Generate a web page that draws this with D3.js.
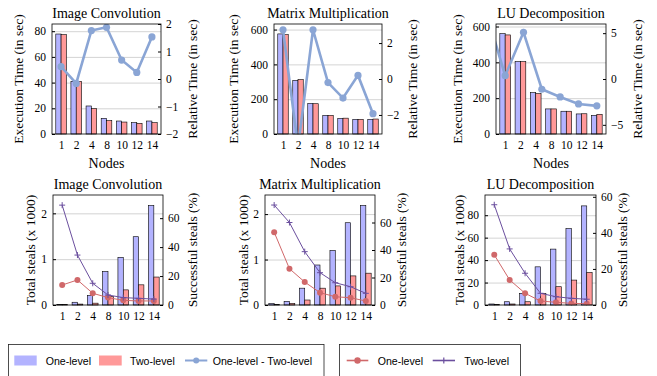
<!DOCTYPE html>
<html>
<head>
<meta charset="utf-8">
<script src="https://cdn.jsdelivr.net/npm/d3@7"></script>
<style>
  body { margin: 0; background: #fff; }
  svg { display: block; }
  text { font-family: "Liberation Serif", "DejaVu Serif", serif; fill: #000; }
  .legend text { font-family: "Liberation Sans", Arial, sans-serif; }
</style>
</head>
<body>
<svg id="chart" width="657" height="376"></svg>
<script>
// ---- data ----
const nodes = ["1", "2", "4", "8", "10", "12", "14"];

// execution time (sec)
const convTimeOne = [77.8, 41, 21.8, 12.2, 10.1, 8.8, 10.1];
const convTimeTwo = [77.3, 41, 19.7, 10.4, 9.3, 8.3, 8.8];
const convRel = [0.45, -0.16, 1.76, 1.88, 0.69, 0.24, 1.53];

const mmTimeOne = [575, 308, 176, 107, 90, 84, 84];
const mmTimeTwo = [571, 312, 174, 107, 91, 84, 86];
const mmRel = [2.74, -3.8, 2.74, -0.2, -1.06, 0.2, -1.93];

const luTimeOne = [560, 404, 231, 140, 127, 112, 104];
const luTimeTwo = [553, 404, 225, 140, 127, 113, 110];
const luRel = [7.1, 0.36, 5.1, -1.12, -1.96, -2.72, -2.93];

// total steals (x 1000)
const convStealsOne = [0.015, 0.06, 0.21, 0.73, 1.04, 1.49, 2.17];
const convStealsTwo = [0.01, 0.02, 0.04, 0.19, 0.33, 0.44, 0.61];
const mmStealsOne = [0.03, 0.08, 0.37, 0.88, 1.2, 1.81, 2.19];
const mmStealsTwo = [0.01, 0.035, 0.11, 0.37, 0.42, 0.64, 0.7];
const luStealsOne = [0.9, 2.9, 10.4, 34, 49.8, 68.1, 88.3];
const luStealsTwo = [0.3, 0.9, 2.9, 10.4, 16.3, 22.2, 29];

// successful steals (%)
const convSuccOne = [13.8, 17.3, 8.1, 5.1, 3.2, 2.8, 2.8];
const convSuccTwo = [69, 34.5, 15, 6.9, 5.1, 4.6, 4.1];
const mmSuccOne = [53, 26.4, 16.7, 9, 6, 5.3, 2.9];
const mmSuccTwo = [72.7, 60, 38.8, 23.5, 16.2, 13.3, 8.5];
const luSuccOne = [27.8, 13.9, 6.5, 2.2, 1.5, 0.9, 0.7];
const luSuccTwo = [55.6, 31.1, 17.6, 6.5, 4.6, 3.7, 3.2];

// tick labels
const convTimeTicks = [0, 20, 40, 60, 80];
const convRelTicks = [-2, -1, 0, 1, 2];
const bigTimeTicks = [0, 200, 400, 600];
const mmRelTicks = [-2, 0, 2];
const luRelTicks = [-5, 0, 5];
const stealTicks = [0, 1, 2];
const luStealTicks = [0, 20, 40, 60, 80];
const succTicks = [0, 20, 40, 60];

// ---- style ----
const blueFill = "#b3b3ff";
const redFill = "#ff9999";
const relColor = "#8aa5d5";
const redLine = "#d0686a";
const purpleLine = "#6b4f9e";
const gridColor = "#c8c8c8";
const intFmt = d3.format("d");

const svg = d3.select("#chart");

const panels = [
  { title: "Image Convolution", left: 52, top: 24, width: 109, height: 110,
    one: convTimeOne, two: convTimeTwo, rel: convRel, relSpan: [0, 6],
    leftDomain: [0, 85.6], rightDomain: [-2, 2], leftTicks: convTimeTicks, rightTicks: convRelTicks,
    leftLabel: "Execution Time (in sec)", rightLabel: "Relative Time (in sec)", lOff: 34, rOff: 31, nodesLabel: true },
  { title: "Matrix Multiplication", left: 274, top: 24, width: 108, height: 110,
    one: mmTimeOne, two: mmTimeTwo, rel: mmRel, relSpan: [0, 6],
    leftDomain: [0, 632], rightDomain: [-3.06, 3.06], leftTicks: bigTimeTicks, rightTicks: mmRelTicks,
    leftLabel: "Execution Time (in sec)", rightLabel: "Relative Time (in sec)", lOff: 41, rOff: 30, nodesLabel: true },
  { title: "LU Decomposition", left: 496, top: 24, width: 110, height: 110,
    one: luTimeOne, two: luTimeTwo, rel: luRel, relSpan: [1, 6],
    leftDomain: [0, 614], rightDomain: [-6, 6], leftTicks: bigTimeTicks, rightTicks: luRelTicks,
    leftLabel: "Execution Time (in sec)", rightLabel: "Relative Time (in sec)", lOff: 39, rOff: 31, nodesLabel: true },
  { title: "Image Convolution", left: 53, top: 195, width: 110, height: 110,
    one: convStealsOne, two: convStealsTwo, succOne: convSuccOne, succTwo: convSuccTwo,
    leftDomain: [0, 2.4], rightDomain: [0, 76], leftTicks: stealTicks, rightTicks: succTicks,
    leftLabel: "Total steals (x 1000)", rightLabel: "Successful steals (%)", lOff: 22.5, rOff: 29 },
  { title: "Matrix Multiplication", left: 265, top: 195, width: 110, height: 110,
    one: mmStealsOne, two: mmStealsTwo, succOne: mmSuccOne, succTwo: mmSuccTwo,
    leftDomain: [0, 2.42], rightDomain: [0, 80], leftTicks: stealTicks, rightTicks: succTicks,
    leftLabel: "Total steals (x 1000)", rightLabel: "Successful steals (%)", lOff: 21.5, rOff: 26 },
  { title: "LU Decomposition", left: 485, top: 195, width: 111, height: 110,
    one: luStealsOne, two: luStealsTwo, succOne: luSuccOne, succTwo: luSuccTwo,
    leftDomain: [0, 98], rightDomain: [0, 61], leftTicks: luStealTicks, rightTicks: succTicks,
    leftLabel: "Total steals (x 1000)", rightLabel: "Successful steals (%)", lOff: 25.5, rOff: 26 }
];

function styleAxis(a) {
  a.attr("font-family", null).attr("font-size", 11.5);
  a.select(".domain").remove();
}

panels.forEach((p, k) => {
  const w = p.width, h = p.height;
  const g = svg.append("g").attr("transform", `translate(${p.left},${p.top})`);
  const x = d3.scalePoint(nodes, [0, w]).padding(0.6);
  const yL = d3.scaleLinear(p.leftDomain, [h, 0]);
  const yR = d3.scaleLinear(p.rightDomain, [h, 0]);
  const bw = x.step() * 0.35;

  // grid lines on the left ticks
  g.append("g")
    .call(d3.axisLeft(yL).tickValues(p.leftTicks.filter((v) => v > 0)).tickSize(-w).tickFormat(""))
    .call((a) => a.select(".domain").remove())
    .selectAll("line").attr("stroke", gridColor).attr("stroke-width", 0.8);

  // bars
  const bars = g.append("g").attr("stroke", "#000").attr("stroke-width", 0.6);
  bars.selectAll(".one").data(p.one).join("rect").attr("class", "one")
    .attr("x", (d, i) => x(nodes[i]) - bw).attr("y", (d) => yL(d))
    .attr("width", bw).attr("height", (d) => h - yL(d)).attr("fill", blueFill);
  bars.selectAll(".two").data(p.two).join("rect").attr("class", "two")
    .attr("x", (d, i) => x(nodes[i])).attr("y", (d) => yL(d))
    .attr("width", bw).attr("height", (d) => h - yL(d)).attr("fill", redFill);

  // lines, clipped to the plot area
  const clipId = "clip" + k;
  g.append("clipPath").attr("id", clipId).append("rect").attr("width", w).attr("height", h);
  const lines = g.append("g").attr("clip-path", `url(#${clipId})`);

  if (p.rel) {
    const rx = d3.scaleLinear(p.relSpan, [x(nodes[0]), x(nodes[nodes.length - 1])]);
    const line = d3.line().x((d, i) => rx(i)).y((d) => yR(d));
    lines.append("path").datum(p.rel).attr("d", line)
      .attr("fill", "none").attr("stroke", relColor).attr("stroke-width", 2.6);
    lines.selectAll(".rel").data(p.rel).join("circle").attr("class", "rel")
      .attr("cx", (d, i) => rx(i)).attr("cy", (d) => yR(d)).attr("r", 3.6).attr("fill", relColor);
  } else {
    const line = d3.line().x((d, i) => x(nodes[i])).y((d) => yR(d));
    lines.append("path").datum(p.succOne).attr("d", line)
      .attr("fill", "none").attr("stroke", redLine).attr("stroke-width", 1);
    lines.selectAll(".s1").data(p.succOne).join("circle").attr("class", "s1")
      .attr("cx", (d, i) => x(nodes[i])).attr("cy", (d) => yR(d)).attr("r", 3).attr("fill", redLine);
    lines.append("path").datum(p.succTwo).attr("d", line)
      .attr("fill", "none").attr("stroke", purpleLine).attr("stroke-width", 1);
    lines.selectAll(".s2").data(p.succTwo).join("path").attr("class", "s2")
      .attr("transform", (d, i) => `translate(${x(nodes[i])},${yR(d)})`)
      .attr("d", "M-3,0H3M0,-3V3").attr("stroke", purpleLine).attr("stroke-width", 1);
  }

  // frame
  g.append("rect").attr("width", w).attr("height", h)
    .attr("fill", "none").attr("stroke", "#000").attr("stroke-width", 0.8);

  // axes
  g.append("g")
    .call(d3.axisLeft(yL).tickValues(p.leftTicks).tickFormat(intFmt).tickSize(-3).tickPadding(6))
    .call(styleAxis);
  g.append("g").attr("transform", `translate(${w},0)`)
    .call(d3.axisRight(yR).tickValues(p.rightTicks).tickFormat(intFmt).tickSize(-3).tickPadding(5))
    .call(styleAxis);
  g.append("g").attr("transform", `translate(0,${h})`)
    .call(d3.axisBottom(x).tickSize(0).tickPadding(7))
    .call(styleAxis);

  // labels
  g.append("text").attr("x", w / 2).attr("y", -11).attr("text-anchor", "middle")
    .attr("dominant-baseline", "central").attr("font-size", 14).text(p.title);
  g.append("text").attr("transform", `translate(${-p.lOff},${h / 2}) rotate(-90)`)
    .attr("text-anchor", "middle").attr("dominant-baseline", "central")
    .attr("font-size", 13.5).text(p.leftLabel);
  g.append("text").attr("transform", `translate(${w + p.rOff},${h / 2}) rotate(-90)`)
    .attr("text-anchor", "middle").attr("dominant-baseline", "central")
    .attr("font-size", 13.5).text(p.rightLabel);
  if (p.nodesLabel) {
    g.append("text").attr("x", w / 2).attr("y", h + 29).attr("text-anchor", "middle")
      .attr("dominant-baseline", "central").attr("font-size", 14).text("Nodes");
  }
});

// ---- legends ----
const legend = svg.append("g").attr("class", "legend").attr("font-size", 10.6);

legend.append("rect").attr("x", 8.5).attr("y", 344.5).attr("width", 315.5).attr("height", 40)
  .attr("fill", "#fff").attr("stroke", "#222").attr("stroke-width", 0.8);
legend.append("rect").attr("x", 339.5).attr("y", 344.5).attr("width", 181).attr("height", 40)
  .attr("fill", "#fff").attr("stroke", "#222").attr("stroke-width", 0.8);

const ly = 360.5;
legend.append("rect").attr("x", 14.3).attr("y", ly - 5).attr("width", 22.4).attr("height", 10).attr("fill", blueFill);
legend.append("text").attr("x", 45.7).attr("y", ly).attr("dominant-baseline", "central").text("One-level");
legend.append("rect").attr("x", 99).attr("y", ly - 5).attr("width", 22.7).attr("height", 10).attr("fill", redFill);
legend.append("text").attr("x", 130).attr("y", ly).attr("dominant-baseline", "central").text("Two-level");
legend.append("line").attr("x1", 185).attr("x2", 207.3).attr("y1", ly).attr("y2", ly)
  .attr("stroke", relColor).attr("stroke-width", 2);
legend.append("circle").attr("cx", 196.2).attr("cy", ly).attr("r", 3).attr("fill", relColor);
legend.append("text").attr("x", 212.7).attr("y", ly).attr("dominant-baseline", "central").text("One-level - Two-level");

legend.append("line").attr("x1", 346.7).attr("x2", 368.3).attr("y1", ly).attr("y2", ly)
  .attr("stroke", redLine).attr("stroke-width", 1.6);
legend.append("circle").attr("cx", 357.5).attr("cy", ly).attr("r", 3.2).attr("fill", redLine);
legend.append("text").attr("x", 377.7).attr("y", ly).attr("dominant-baseline", "central").text("One-level");
legend.append("line").attr("x1", 432.7).attr("x2", 455).attr("y1", ly).attr("y2", ly)
  .attr("stroke", purpleLine).attr("stroke-width", 1.6);
legend.append("path").attr("transform", `translate(443.8,${ly})`).attr("d", "M-3,0H3M0,-3V3")
  .attr("stroke", purpleLine).attr("stroke-width", 1.2);
legend.append("text").attr("x", 464.3).attr("y", ly).attr("dominant-baseline", "central").text("Two-level");
</script>
</body>
</html>
